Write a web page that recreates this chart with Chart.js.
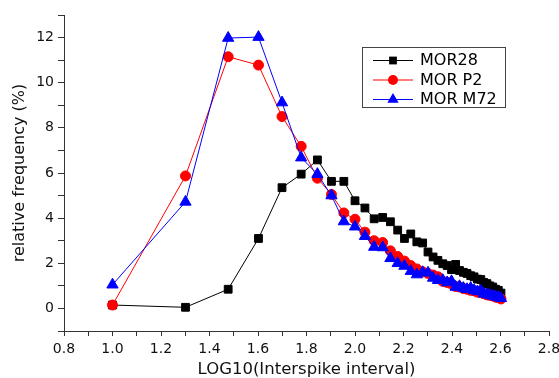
<!DOCTYPE html>
<html>
<head>
<meta charset="utf-8">
<script src="https://cdn.jsdelivr.net/npm/chart.js@4.4.0/dist/chart.umd.min.js"></script>
<style>
  html, body { margin: 0; padding: 0; background: #fff; }
  #wrap { width: 559px; height: 378px; }
</style>
</head>
<body>
<div id="wrap"><canvas id="isiChart" width="559" height="378"></canvas></div>
<script>
// log10 of interspike interval bins (10, 20, ... 400)
const logIsi = [1.0, 1.301, 1.477, 1.602, 1.699, 1.778, 1.845, 1.903, 1.954, 2.0,
  2.041, 2.079, 2.114, 2.146, 2.176, 2.204, 2.23, 2.255, 2.279, 2.301,
  2.322, 2.342, 2.362, 2.38, 2.398, 2.415, 2.431, 2.447, 2.462, 2.477,
  2.491, 2.505, 2.519, 2.531, 2.544, 2.556, 2.568, 2.58, 2.591, 2.602];

// relative frequency (%)
const mor28 = [0.15, 0.05, 0.85, 3.1, 5.35, 5.95, 6.58, 5.63, 5.63, 4.77,
  4.45, 3.97, 4.03, 3.84, 3.47, 3.1, 3.3, 2.95, 2.9, 2.5,
  2.28, 2.13, 1.98, 1.9, 1.72, 1.95, 1.68, 1.6, 1.55, 1.45,
  1.4, 1.3, 1.28, 1.15, 1.1, 1.0, 0.95, 0.85, 0.8, 0.68];
const morP2 = [0.15, 5.87, 11.15, 10.78, 8.5, 7.18, 5.77, 5.05, 4.23, 3.95,
  3.38, 3.0, 2.92, 2.55, 2.3, 2.1, 1.9, 1.75, 1.62, 1.55,
  1.48, 1.4, 1.2, 1.15, 1.08, 0.97, 0.95, 0.88, 0.85, 0.8,
  0.78, 0.72, 0.7, 0.65, 0.6, 0.58, 0.55, 0.5, 0.48, 0.42];
const morM72 = [1.05, 4.72, 11.98, 12.02, 9.12, 6.68, 5.95, 5.0, 3.85, 3.62,
  3.2, 2.72, 2.7, 2.22, 2.0, 1.88, 1.65, 1.5, 1.6, 1.58,
  1.35, 1.25, 1.25, 1.15, 1.2, 0.95, 0.98, 0.9, 0.85, 0.9,
  0.8, 0.75, 0.78, 0.65, 0.62, 0.6, 0.55, 0.52, 0.5, 0.45];

const seriesNames = ["MOR28", "MOR P2", "MOR M72"];
const xTickLabels = ["0.8", "1.0", "1.2", "1.4", "1.6", "1.8", "2.0", "2.2", "2.4", "2.6", "2.8"];
const yTickLabels = ["0", "2", "4", "6", "8", "10", "12"];

const toPoints = (ys) => ys.map((y, i) => ({ x: logIsi[i], y }));

const FONT = "'DejaVu Sans', 'Liberation Sans', Arial, sans-serif";

// Draw a marker like the chart's own point styles
const drawMarker = (ctx, style, x, y, r, color) => {
  ctx.fillStyle = color;
  ctx.beginPath();
  if (style === "rect") {
    const s = r * Math.SQRT1_2;
    ctx.rect(x - s, y - s, 2 * s, 2 * s);
  } else if (style === "circle") {
    ctx.arc(x, y, r, 0, Math.PI * 2);
  } else {
    ctx.moveTo(x, y - r);
    ctx.lineTo(x + r * Math.sin(Math.PI / 3), y + r / 2);
    ctx.lineTo(x - r * Math.sin(Math.PI / 3), y + r / 2);
    ctx.closePath();
  }
  ctx.fill();
};

// Boxed legend sitting inside the plot, top right
const legendBox = {
  id: "legendBox",
  afterDraw(chart) {
    const ctx = chart.ctx;
    const box = { x: 362, y: 47, w: 143, h: 60 };
    ctx.save();
    ctx.strokeStyle = "#444";
    ctx.lineWidth = 1;
    ctx.strokeRect(box.x + 0.5, box.y + 0.5, box.w, box.h);

    chart.data.datasets.forEach((ds, i) => {
      const rowY = box.y + 13 + i * 19.5;
      ctx.strokeStyle = ds.borderColor;
      ctx.beginPath();
      ctx.moveTo(box.x + 11, rowY + 0.5);
      ctx.lineTo(box.x + 51, rowY + 0.5);
      ctx.stroke();
      drawMarker(ctx, ds.pointStyle, box.x + 31, rowY + 0.5, ds.pointRadius, ds.backgroundColor);
      ctx.fillStyle = "#000";
      ctx.font = "16px " + FONT;
      ctx.textBaseline = "middle";
      ctx.fillText(ds.label, box.x + 58, rowY + 1);
    });
    ctx.restore();
  },
};

const makeSeries = (label, data, color, style, radius, order) => ({
  label,
  data: toPoints(data),
  borderColor: color,
  backgroundColor: color,
  borderWidth: 1,
  pointStyle: style,
  pointRadius: radius,
  pointBorderWidth: 1,
  tension: 0,
  order,
});

const ctx = document.getElementById("isiChart").getContext("2d");
new Chart(ctx, {
  type: "line",
  data: {
    datasets: [
      makeSeries(seriesNames[0], mor28, "#000000", "rect", 5.5, 3),
      makeSeries(seriesNames[1], morP2, "#ff0000", "circle", 5, 2),
      makeSeries(seriesNames[2], morM72, "#0000ff", "triangle", 6.5, 1),
    ],
  },
  options: {
    responsive: false,
    animation: false,
    devicePixelRatio: 1,
    layout: { padding: { top: 15, right: 10, left: 0, bottom: 0 } },
    plugins: {
      legend: { display: false },
      tooltip: { enabled: false },
    },
    scales: {
      x: {
        type: "linear",
        min: 0.8,
        max: 2.8,
        afterFit: (scale) => {
          scale.height = 47;
          scale.paddingRight = 0;
        },
        ticks: {
          stepSize: 0.1,
          autoSkip: false,
          maxRotation: 0,
          padding: 5,
          color: "#111",
          font: { family: FONT, size: 14 },
          callback: (value) => {
            const s = (Math.round(value * 10) / 10).toFixed(1);
            return xTickLabels.includes(s) ? s : "";
          },
        },
        grid: { drawOnChartArea: false, tickLength: 5, color: "#333" },
        border: { color: "#333", width: 1 },
        title: {
          display: true,
          text: "LOG10(Interspike interval)",
          color: "#111",
          font: { family: FONT, size: 16.5 },
          padding: { top: 0, bottom: -2 },
        },
      },
      y: {
        min: -1,
        max: 13,
        afterFit: (scale) => { scale.width = 64; },
        ticks: {
          stepSize: 1,
          autoSkip: false,
          padding: 4,
          color: "#111",
          font: { family: FONT, size: 14 },
          callback: (value) => {
            const s = String(Math.round(value));
            return yTickLabels.includes(s) ? s : "";
          },
        },
        grid: { drawOnChartArea: false, tickLength: 6, color: "#333" },
        border: { color: "#333", width: 1 },
        title: {
          display: true,
          text: "relative frequency (%)",
          color: "#111",
          font: { family: FONT, size: 16 },
          padding: { top: 10, bottom: 0 },
        },
      },
    },
  },
  plugins: [legendBox],
});
</script>
</body>
</html>
